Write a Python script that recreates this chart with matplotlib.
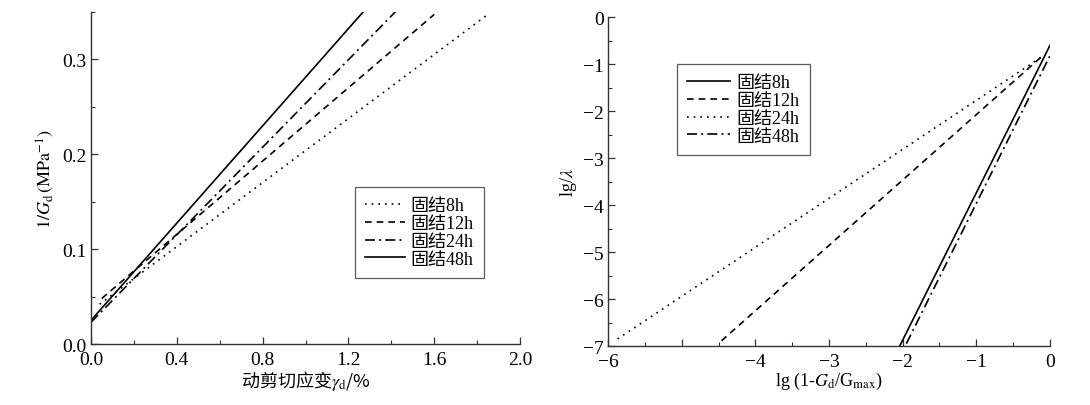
import matplotlib
matplotlib.use('Agg')
import matplotlib.pyplot as plt
from matplotlib.ticker import MultipleLocator, FixedLocator, FixedFormatter
from matplotlib.font_manager import FontProperties

plt.rcParams['font.family'] = ['Liberation Serif', 'Noto Sans CJK SC']
plt.rcParams['mathtext.fontset'] = 'stix'
plt.rcParams['axes.unicode_minus'] = True

left_labels = ['固结8h', '固结12h', '固结24h', '固结48h']
left_x = [[0.04, 1.85], [0.05, 1.60], [0.0, 1.42], [0.0, 1.27]]
left_y = [[0.042, 0.347], [0.048, 0.347], [0.023, 0.350], [0.025, 0.350]]
left_styles = [(0, (1, 3)), (0, (4, 3)), (0, (6, 2.5, 1.2, 2.5)), '-']

# right panel: lg(lambda) vs lg(1-Gd/Gmax)
right_labels = ['固结8h', '固结12h', '固结24h', '固结48h']
right_x = [[-2.04, 0.0], [-4.46, -0.12], [-5.87, -0.06], [-1.95, 0.0]]
right_y = [[-7.0, -0.60], [-6.89, -0.85], [-6.85, -0.79], [-6.95, -0.82]]
right_styles = ['-', (0, (4, 3)), (0, (1, 3)), (0, (6, 2.5, 1.2, 2.5))]

fig = plt.figure(figsize=(10.90, 4.06), dpi=100)
ax1 = fig.add_axes([0.0835, 0.150, 0.3936, 0.819])
ax2 = fig.add_axes([0.5578, 0.1453, 0.4055, 0.810])

leg_font = FontProperties(family=['Liberation Serif', 'Noto Sans CJK SC'], size=13)

for xs, ys, ls, lab in zip(left_x, left_y, left_styles, left_labels):
    ax1.plot(xs, ys, color='black', linestyle=ls, linewidth=1.2, label=lab)
for xs, ys, ls, lab in zip(right_x, right_y, right_styles, right_labels):
    ax2.plot(xs, ys, color='black', linestyle=ls, linewidth=1.2, label=lab)

ax1.set_xlim(0, 2.0)
ax1.set_ylim(0, 0.35)
ax1.xaxis.set_major_locator(MultipleLocator(0.4))
ax1.xaxis.set_minor_locator(MultipleLocator(0.2))
ax1.yaxis.set_major_locator(MultipleLocator(0.1))
ax1.yaxis.set_minor_locator(MultipleLocator(0.05))
ax1.xaxis.set_major_formatter(plt.FormatStrFormatter('%.1f'))
ax1.yaxis.set_major_formatter(plt.FormatStrFormatter('%.1f'))

ax2.set_xlim(-6, 0)
ax2.set_ylim(-7, 0)
ax2.xaxis.set_major_locator(FixedLocator([-6, -5, -4, -3, -2, -1, 0]))
ax2.xaxis.set_major_formatter(FixedFormatter(['\u22126', '', '\u22124', '\u22123', '\u22122', '\u22121', '0']))
ax2.xaxis.set_minor_locator(MultipleLocator(0.5))
ax2.yaxis.set_major_locator(MultipleLocator(1))
ax2.yaxis.set_minor_locator(MultipleLocator(0.5))

for ax in (ax1, ax2):
    ax.spines['top'].set_visible(False)
    ax.spines['right'].set_visible(False)
    for s in ('left', 'bottom'):
        ax.spines[s].set_color('#333333')
        ax.spines[s].set_linewidth(1.0)
    ax.tick_params(which='major', direction='in', length=5, width=0.9,
                   labelsize=14, color='#333333', pad=3)
    ax.tick_params(which='minor', direction='in', length=3, width=0.8,
                   color='#333333')
    ax.tick_params(axis='x', which='major', pad=5)

ax1.set_xlabel('动剪切应变$\\gamma_{\\mathrm{d}}$/%', fontsize=13,
               family='Noto Sans CJK SC', labelpad=0)
ax1.set_ylabel(r'$1/G_{\mathrm{d}}\,(\mathrm{MPa}^{-1})$', fontsize=13, labelpad=5)
ax2.set_xlabel(r'lg (1-$G_{\mathrm{d}}$/G$_{\mathrm{max}}$)', fontsize=13, labelpad=0)
ax2.set_ylabel(r'lg/$\lambda$', fontsize=13, labelpad=3)

lg1 = ax1.legend(loc='upper left', bbox_to_anchor=(0.615, 0.472), borderaxespad=0,
                 prop=leg_font, fancybox=False, edgecolor='#333333',
                 handlelength=2.2, handletextpad=0.35, labelspacing=0.05,
                 borderpad=0.55)
lg1.get_frame().set_linewidth(0.9)
lg2 = ax2.legend(loc='upper left', bbox_to_anchor=(0.156, 0.857), borderaxespad=0,
                 prop=leg_font, fancybox=False, edgecolor='#333333',
                 handlelength=2.4, handletextpad=0.35, labelspacing=0.05,
                 borderpad=0.55)
lg2.get_frame().set_linewidth(0.9)

plt.savefig('out.png', dpi=100)
